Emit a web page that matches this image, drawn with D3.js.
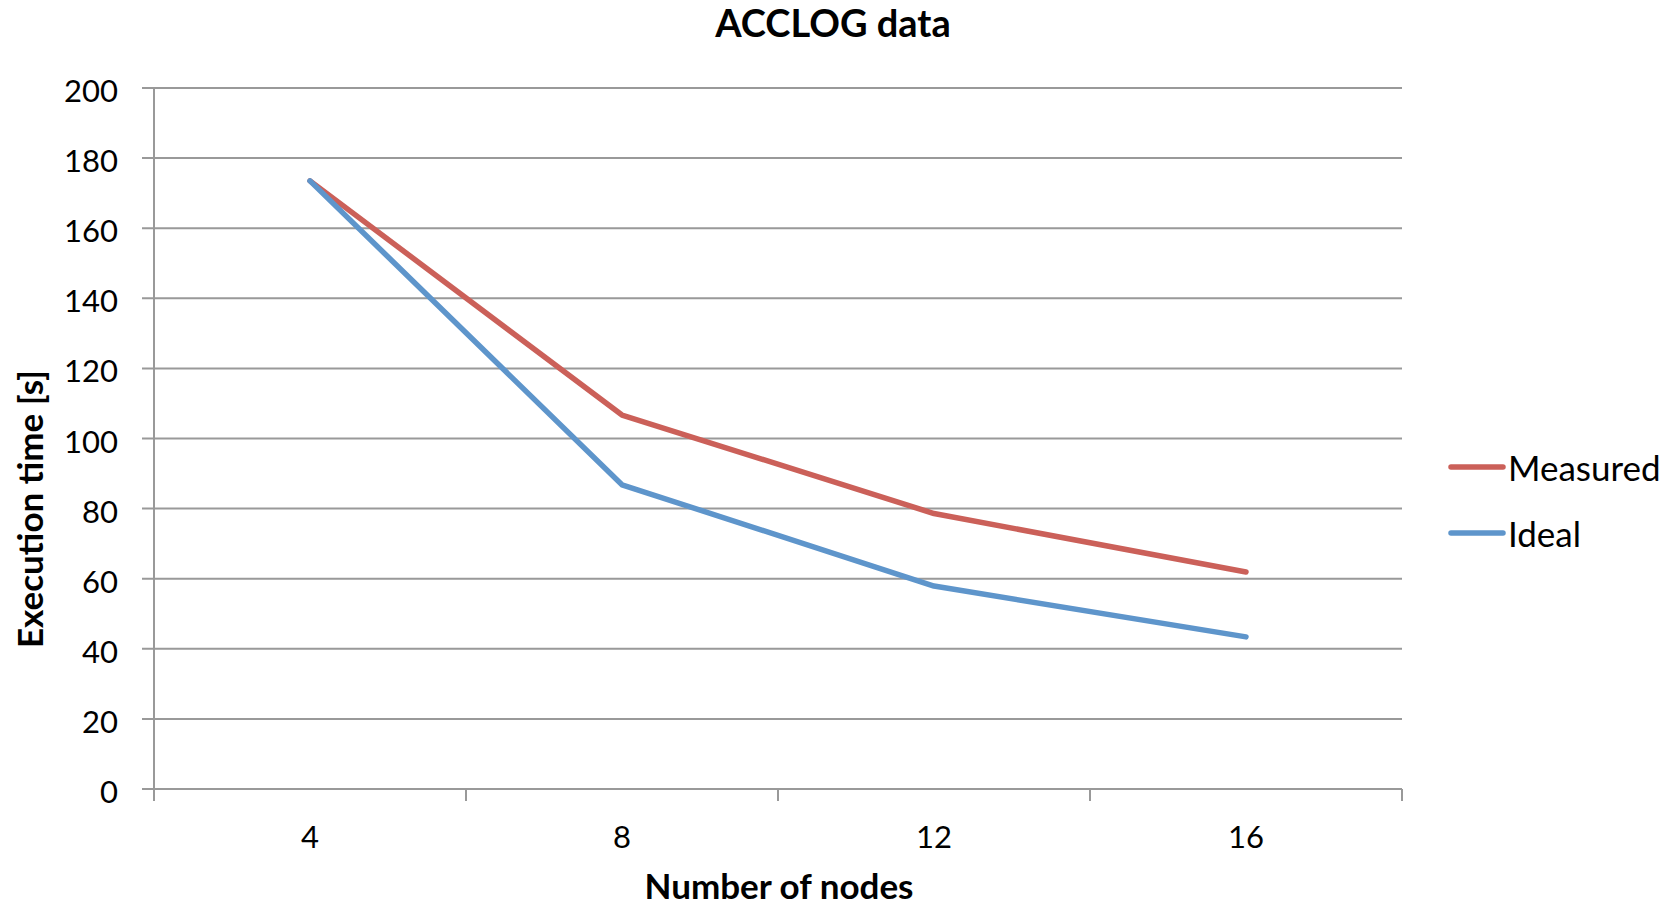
<!DOCTYPE html>
<html>
<head>
<meta charset="utf-8">
<script src="https://cdn.jsdelivr.net/npm/d3@7"></script>
<style>
  html, body { margin: 0; padding: 0; background: #fff; }
  svg { display: block; }
  text { font-family: Lato, "Open Sans", sans-serif; fill: #000; }
</style>
</head>
<body>
<svg id="chart" width="1679" height="908"></svg>
<script>
// ---- data ----
const categories = ["4", "8", "12", "16"];
const measured = [173.5, 106.7, 78.6, 61.9];
const ideal = [173.5, 86.8, 57.9, 43.4];
const yTicks = [0, 20, 40, 60, 80, 100, 120, 140, 160, 180, 200];
const seriesNames = ["Measured", "Ideal"];
const seriesColors = ["#CB6059", "#5E95CB"];
const titleText = "ACCLOG data";
const xTitle = "Number of nodes";
const yTitle = "Execution time [s]";

// ---- layout ----
const W = 1679, H = 908;
const plot = { left: 154, right: 1402, top: 88, bottom: 789 };
const gridColor = "#999999";

const svg = d3.select("#chart");

const x = d3.scaleBand().domain(categories).range([plot.left, plot.right]).paddingInner(0).paddingOuter(0);
const y = d3.scaleLinear().domain([0, 200]).range([plot.bottom, plot.top]);

// gridlines
svg.append("g").selectAll("line").data(yTicks).join("line")
  .attr("x1", plot.left - 12).attr("x2", plot.right)
  .attr("y1", d => y(d)).attr("y2", d => y(d))
  .attr("stroke", gridColor).attr("stroke-width", 2);

// y axis line
svg.append("line")
  .attr("x1", plot.left).attr("x2", plot.left)
  .attr("y1", plot.top).attr("y2", plot.bottom + 12)
  .attr("stroke", gridColor).attr("stroke-width", 2);

// x axis tick marks at band boundaries
const boundaries = categories.map(c => x(c)).concat([x(categories[categories.length - 1]) + x.bandwidth()]);
svg.append("g").selectAll("line").data(boundaries).join("line")
  .attr("x1", d => d).attr("x2", d => d)
  .attr("y1", plot.bottom).attr("y2", plot.bottom + 12)
  .attr("stroke", gridColor).attr("stroke-width", 2);

// y tick labels
svg.append("g").selectAll("text").data(yTicks).join("text")
  .attr("x", 118).attr("y", d => y(d) + 14)
  .attr("text-anchor", "end")
  .style("font-size", "31px")
  .text(d => d);

// x tick labels
svg.append("g").selectAll("text").data(categories).join("text")
  .attr("x", d => x(d) + x.bandwidth() / 2).attr("y", 848)
  .attr("text-anchor", "middle")
  .style("font-size", "31px")
  .text(d => d);

// series lines
const line = d3.line()
  .x((d, i) => x(categories[i]) + x.bandwidth() / 2)
  .y(d => y(d));

[measured, ideal].forEach((vals, i) => {
  svg.append("path")
    .datum(vals)
    .attr("d", line)
    .attr("fill", "none")
    .attr("stroke", seriesColors[i])
    .attr("stroke-width", 5.5)
    .attr("stroke-linejoin", "round")
    .attr("stroke-linecap", "round");
});

// Titles
svg.append("text")
  .attr("x", 833).attr("y", 37)
  .attr("text-anchor", "middle")
  .style("font-size", "38px").style("font-weight", "bold")
  .text(titleText);

svg.append("text")
  .attr("x", 779).attr("y", 899)
  .attr("text-anchor", "middle")
  .style("font-size", "35px").style("font-weight", "bold")
  .text(xTitle);

svg.append("text")
  .attr("transform", "translate(43,509) rotate(-90)")
  .attr("text-anchor", "middle")
  .style("font-size", "35px").style("font-weight", "bold")
  .text(yTitle);

// legend
const legend = svg.append("g");
seriesNames.forEach((name, i) => {
  const ly = 467 + i * 66;
  legend.append("line")
    .attr("x1", 1451).attr("x2", 1503)
    .attr("y1", ly).attr("y2", ly)
    .attr("stroke", seriesColors[i]).attr("stroke-width", 5.5)
    .attr("stroke-linecap", "round");
  legend.append("text")
    .attr("x", 1508).attr("y", ly + 14)
    .style("font-size", "35px")
    .text(name);
});
</script>
</body>
</html>
